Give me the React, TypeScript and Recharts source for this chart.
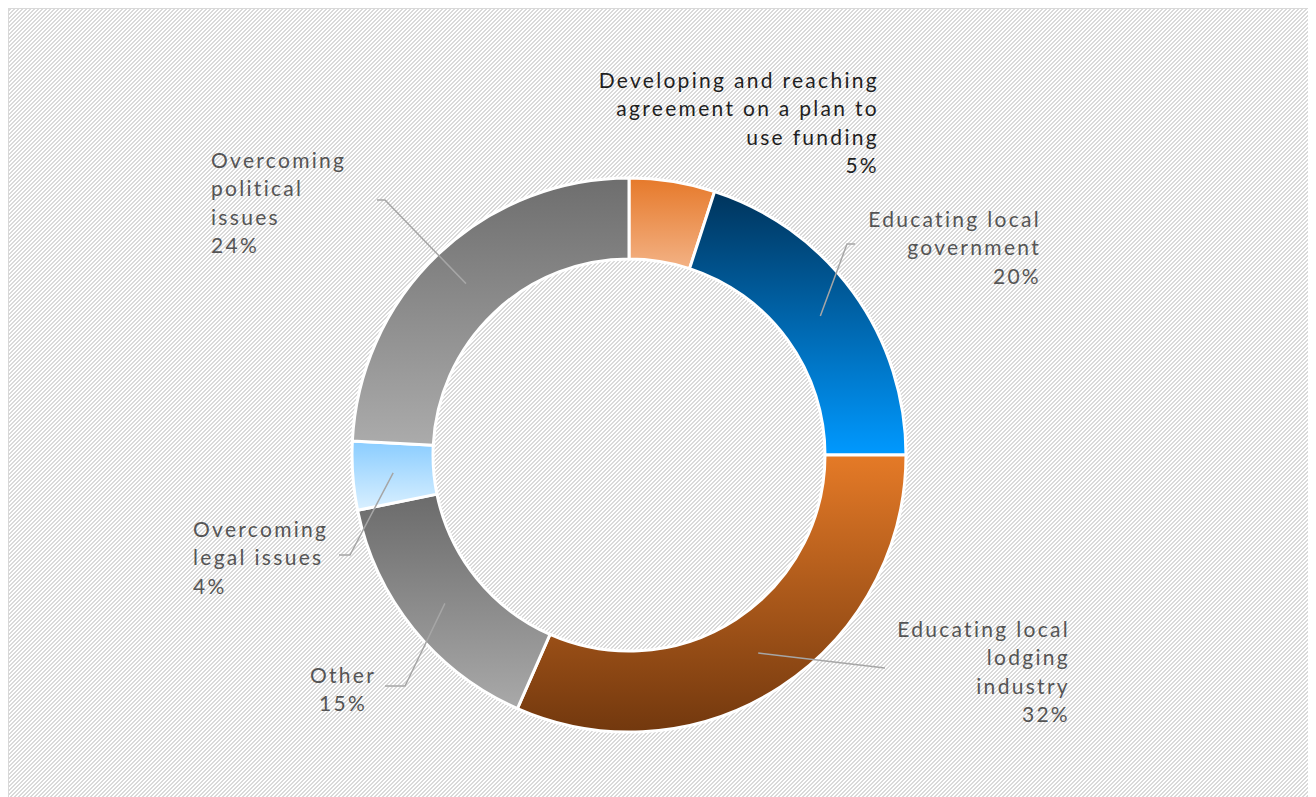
import { PieChart, Pie, Cell } from "recharts";

const categories = [
  "Developing and reaching agreement on a plan to use funding",
  "Educating local government",
  "Educating local lodging industry",
  "Other",
  "Overcoming legal issues",
  "Overcoming political issues",
];
const shares = [5, 20, 31.6, 15.2, 4, 24.2];
const labelLines = [
  ["Developing and reaching", "agreement on a plan to", "use funding"],
  ["Educating local", "government"],
  ["Educating local", "lodging", "industry"],
  ["Other"],
  ["Overcoming", "legal issues"],
  ["Overcoming", "political", "issues"],
];

const data = categories.map((name, i) => ({ name, value: shares[i] }));

// slice gradients, top -> bottom
const gradTop = ["#e6792a", "#00345c", "#e57a27", "#6b6b6b", "#8acdff", "#6e6e6e"];
const gradBottom = ["#f3b285", "#0099ff", "#72380e", "#a9a9a9", "#daf0ff", "#ababab"];

// label placement, offsets from the pie centre
const labelLayout = [
  { path: [], tx: 250, ty: -376, anchor: "end", color: "#1f1f1f" },
  { path: [[218, -211], [226, -211]], tx: 412, ty: -237, anchor: "end", color: "#555" },
  { path: [[256, 213]], tx: 441, ty: 173, anchor: "end", color: "#555" },
  { path: [[-224, 231], [-244, 231]], tx: -286, ty: 219, anchor: "middle", color: "#555" },
  { path: [[-279, 100], [-290, 100]], tx: -436, ty: 73, anchor: "start", color: "#555" },
  { path: [[-244, -255], [-252, -255]], tx: -418, ty: -296, anchor: "start", color: "#555" },
];

const FONT = "Lato, 'Open Sans', sans-serif";
const LINE_H = 28.6;
const RAD = Math.PI / 180;

const renderLabel = (props: any) => {
  const { cx, cy, midAngle, innerRadius, outerRadius, index, percent } = props;
  const lay = labelLayout[index];
  const r = (innerRadius + outerRadius) / 2;
  const sx = cx + r * Math.cos(-midAngle * RAD);
  const sy = cy + r * Math.sin(-midAngle * RAD);
  const pts = [[sx, sy], ...lay.path.map(([dx, dy]) => [cx + dx, cy + dy])];
  const lines = [...labelLines[index], `${Math.round(percent * 100)}%`];
  return (
    <g key={`lbl-${index}`}>
      {pts.length > 1 && (
        <polyline
          points={pts.map((p) => p.join(",")).join(" ")}
          fill="none"
          stroke="#a6a6a6"
          strokeWidth={1.5}
        />
      )}
      {lines.map((t, j) => (
        <text
          key={j}
          x={cx + lay.tx}
          y={cy + lay.ty + j * LINE_H}
          textAnchor={lay.anchor as any}
          dominantBaseline="central"
          fontFamily={FONT}
          fontSize={21}
          letterSpacing={2.3}
          fill={lay.color}
        >
          {t}
        </text>
      ))}
    </g>
  );
};

export default function App() {
  const W = 1303;
  const H = 790;
  return (
    <div
      style={{
        position: "relative",
        width: W,
        height: 800,
        border: "1px solid #d9d9d9",
        overflow: "hidden",
      }}
    >
      <svg
        width={W}
        height={800}
        style={{ position: "absolute", left: 0, top: 0 }}
      >
        <defs>
          <pattern id="hatch" width={4} height={4} patternUnits="userSpaceOnUse">
            <rect width={4} height={4} fill="#ffffff" />
            {[0, 1, 2, 3].map((y) =>
              [0, 1, 2, 3]
                .filter((x) => (x + y) % 4 <= 1)
                .map((x) => (
                  <rect key={`${x}-${y}`} x={x} y={y} width={1} height={1} fill="#d9d9d9" />
                ))
            )}
          </pattern>
          {gradTop.map((c, i) => (
            <linearGradient key={i} id={`slice-${i}`} x1="0" y1="0" x2="0" y2="1">
              <stop offset="0%" stopColor={c} />
              <stop offset="100%" stopColor={gradBottom[i]} />
            </linearGradient>
          ))}
        </defs>
        <rect width={W} height={800} fill="url(#hatch)" shapeRendering="crispEdges" />
      </svg>
      <div style={{ position: "absolute", left: 0, top: 0 }}>
        <PieChart width={W} height={H} margin={{ top: 0, right: 0, bottom: 0, left: 0 }}>
          <Pie
            data={data}
            dataKey="value"
            nameKey="name"
            cx={620}
            cy={446}
            innerRadius={196}
            outerRadius={277}
            startAngle={90}
            endAngle={-270}
            stroke="#ffffff"
            strokeWidth={3}
            label={renderLabel}
            labelLine={false}
            isAnimationActive={false}
          >
            {data.map((d, i) => (
              <Cell key={d.name} fill={`url(#slice-${i})`} />
            ))}
          </Pie>
        </PieChart>
      </div>
    </div>
  );
}
